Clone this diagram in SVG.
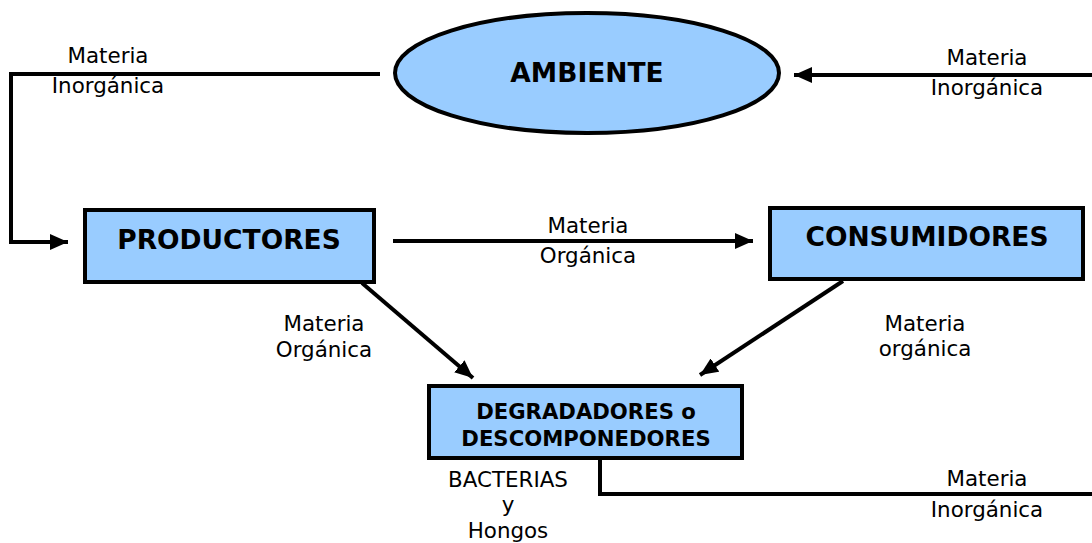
<svg xmlns="http://www.w3.org/2000/svg" width="1092" height="543" viewBox="0 0 1092 543">
<style>
.node{fill:#99CCFF;stroke:#000;stroke-width:4}
.title{font-family:"DejaVu Sans",Verdana,sans-serif;font-weight:bold;font-size:26.5px;fill:#000;text-anchor:middle}
.sub{font-family:"DejaVu Sans",Verdana,sans-serif;font-weight:bold;font-size:21.2px;fill:#000;text-anchor:middle}
.lbl{font-family:"DejaVu Sans",Verdana,sans-serif;font-size:21.4px;fill:#000;text-anchor:middle}
.conn{fill:none;stroke:#000;stroke-width:4}
</style>
<defs>
<marker id="arr" markerUnits="userSpaceOnUse" markerWidth="18" markerHeight="16" refX="18" refY="8" orient="auto">
<path d="M0,0 L18,8 L0,16 Z" fill="#000"/>
</marker>
</defs>
<rect width="1092" height="543" fill="#fff"/>
<g id="connectors">
<polyline class="conn" points="380,74 11,74 11,242 68,242" marker-end="url(#arr)"/>
<line class="conn" x1="1092" y1="75" x2="794" y2="75" marker-end="url(#arr)"/>
<line class="conn" x1="393" y1="241" x2="753" y2="241" marker-end="url(#arr)"/>
<line class="conn" x1="362" y1="283" x2="473" y2="378" marker-end="url(#arr)"/>
<line class="conn" x1="843" y1="281" x2="700" y2="375" marker-end="url(#arr)"/>
<polyline class="conn" points="600,459 600,494 1092,494"/>
</g>
<g id="labels">
<text class="lbl" x="108" y="63">Materia</text>
<text class="lbl" x="108" y="93">Inorgánica</text>
<text class="lbl" x="987" y="65">Materia</text>
<text class="lbl" x="987" y="95">Inorgánica</text>
<text class="lbl" x="588" y="233">Materia</text>
<text class="lbl" x="588" y="263">Orgánica</text>
<text class="lbl" x="324" y="331">Materia</text>
<text class="lbl" x="324" y="357">Orgánica</text>
<text class="lbl" x="925" y="331">Materia</text>
<text class="lbl" x="925" y="356">orgánica</text>
<text class="lbl" x="508" y="487">BACTERIAS</text>
<text class="lbl" x="508" y="512">y</text>
<text class="lbl" x="508" y="538">Hongos</text>
<text class="lbl" x="987" y="486">Materia</text>
<text class="lbl" x="987" y="517">Inorgánica</text>
</g>
<g id="ambiente">
<ellipse class="node" cx="587" cy="73" rx="192" ry="60"/>
<text class="title" x="587" y="82">AMBIENTE</text>
</g>
<g id="productores">
<rect class="node" x="85" y="210" width="289" height="72"/>
<text class="title" x="229" y="249">PRODUCTORES</text>
</g>
<g id="consumidores">
<rect class="node" x="770" y="208" width="313" height="71"/>
<text class="title" x="927" y="246">CONSUMIDORES</text>
</g>
<g id="degradadores">
<rect class="node" x="429" y="386" width="313" height="72"/>
<text class="sub" x="586" y="419">DEGRADADORES o</text>
<text class="sub" x="586" y="446">DESCOMPONEDORES</text>
</g>
</svg>
